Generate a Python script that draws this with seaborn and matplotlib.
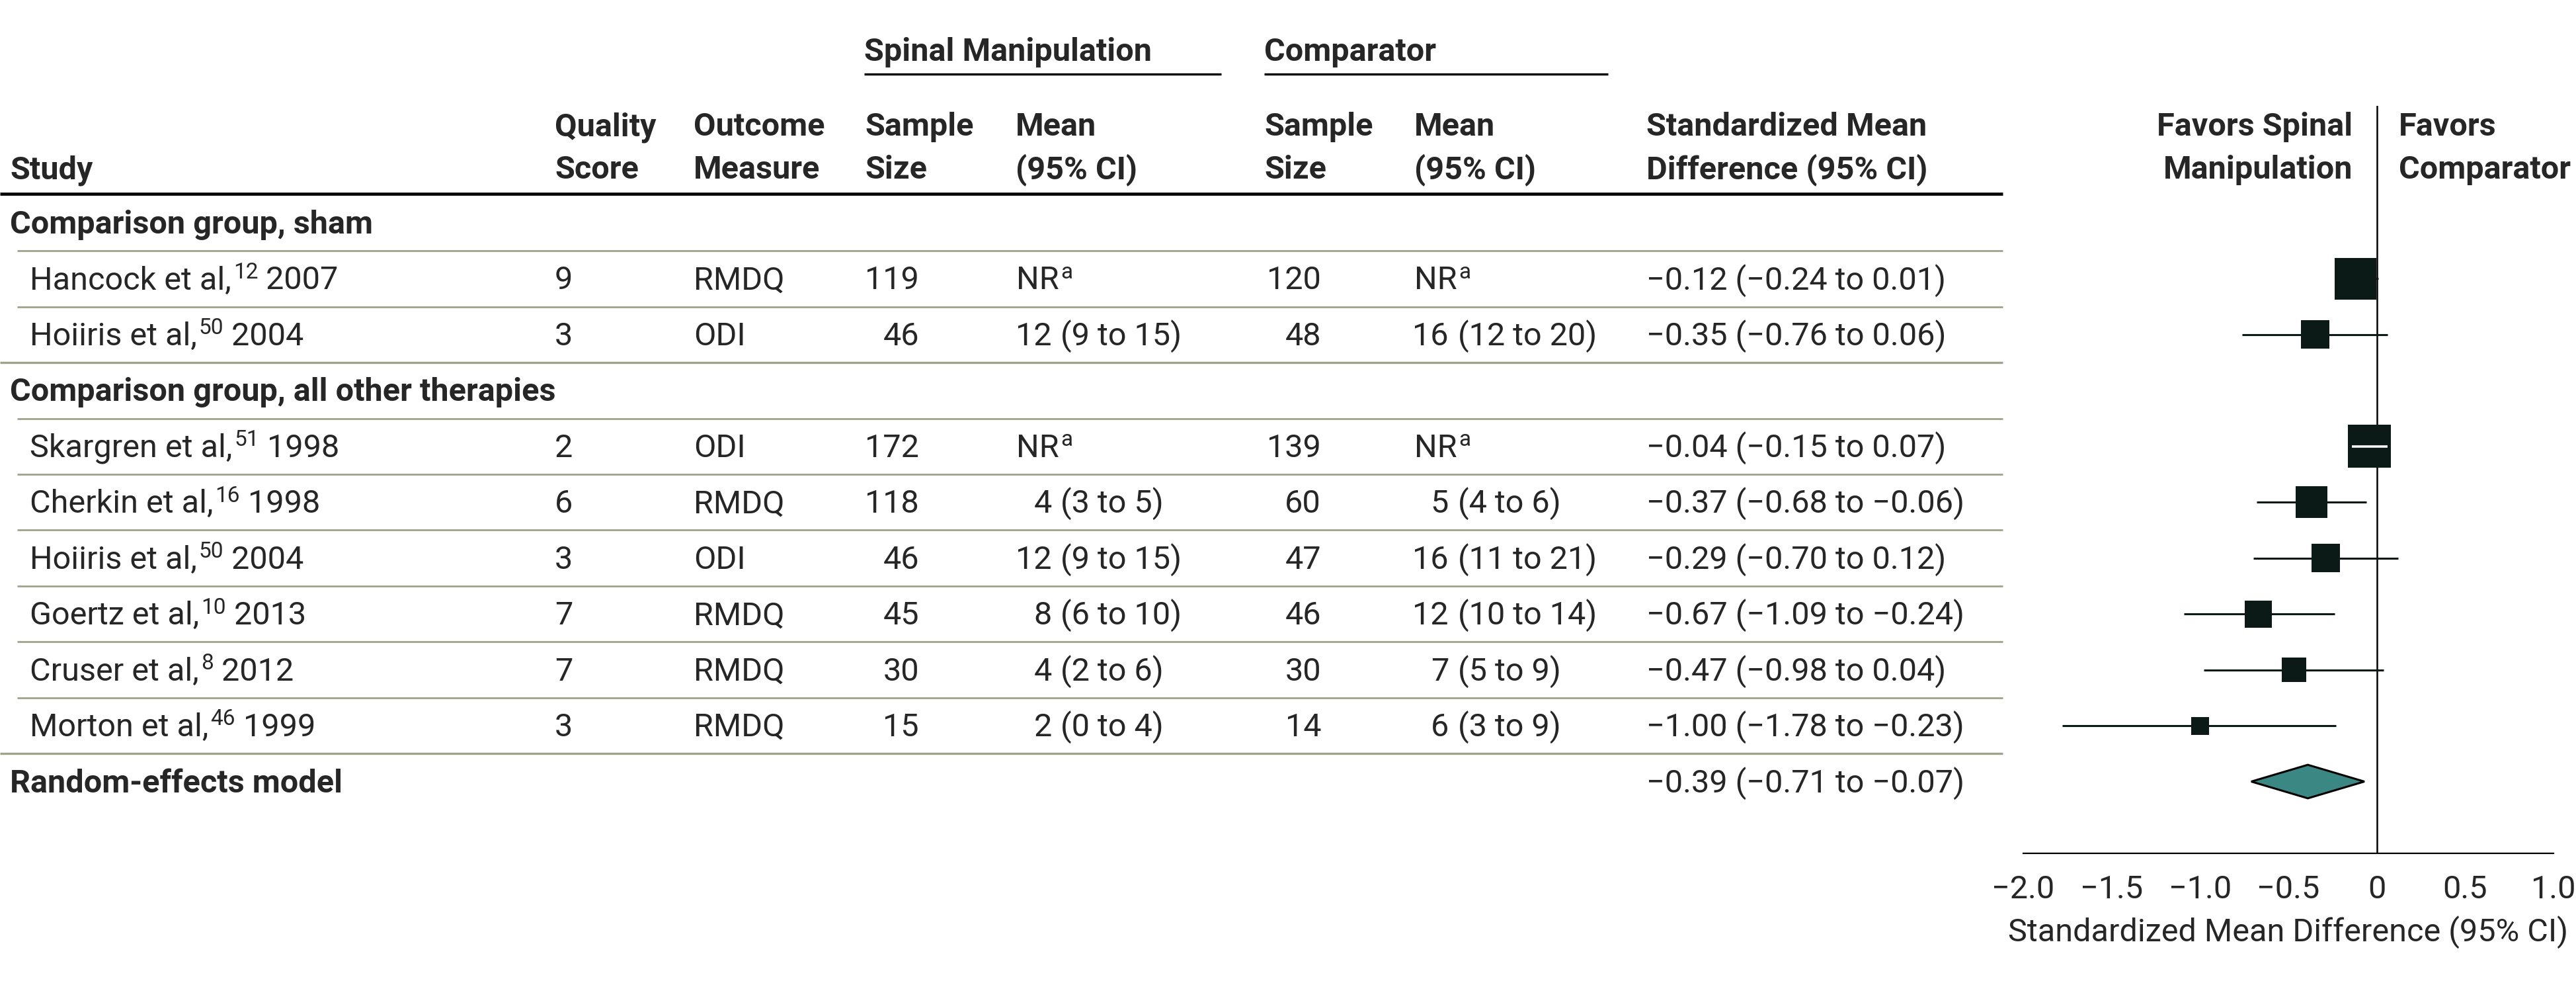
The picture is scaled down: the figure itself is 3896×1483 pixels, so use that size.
import numpy as np
import pandas as pd
import seaborn as sns
import matplotlib.pyplot as plt
import matplotlib.transforms as mtransforms

# study table data
groups = ["Comparison group, sham", "Comparison group, all other therapies"]
study_group = [0, 0, 1, 1, 1, 1, 1, 1]
study_names = ["Hancock et al,", "Hoiiris et al,", "Skargren et al,", "Cherkin et al,",
               "Hoiiris et al,", "Goertz et al,", "Cruser et al,", "Morton et al,"]
refs = ["12", "50", "51", "16", "50", "10", "8", "46"]
years = ["2007", "2004", "1998", "1998", "2004", "2013", "2012", "1999"]
quality = [9, 3, 2, 6, 3, 7, 7, 3]
outcome = ["RMDQ", "ODI", "ODI", "RMDQ", "ODI", "RMDQ", "RMDQ", "RMDQ"]
sm_n = [119, 46, 172, 118, 46, 45, 30, 15]
sm_mean = [None, 12, None, 4, 12, 8, 4, 2]
sm_lo = [None, 9, None, 3, 9, 6, 2, 0]
sm_hi = [None, 15, None, 5, 15, 10, 6, 4]
cmp_n = [120, 48, 139, 60, 47, 46, 30, 14]
cmp_mean = [None, 16, None, 5, 16, 12, 7, 6]
cmp_lo = [None, 12, None, 4, 11, 10, 5, 3]
cmp_hi = [None, 20, None, 6, 21, 14, 9, 9]
smd = [-0.12, -0.35, -0.04, -0.37, -0.29, -0.67, -0.47, -1.00]
smd_lo = [-0.24, -0.76, -0.15, -0.68, -0.70, -1.09, -0.98, -1.78]
smd_hi = [0.01, 0.06, 0.07, -0.06, 0.12, -0.24, 0.04, -0.23]
pooled_label = "Random-effects model"
pooled = [-0.39, -0.71, -0.07]
xticks = [-2.0, -1.5, -1.0, -0.5, 0, 0.5, 1.0]
xtick_labels = ["\u22122.0", "\u22121.5", "\u22121.0", "\u22120.5", "0", "0.5", "1.0"]

# box widths in pixels (study weight)
box_px = [63, 43, 65, 48, 43, 41, 37, 27]

sns.set_style("white")
plt.rcParams["font.family"] = ["Roboto", "DejaVu Sans"]

DARK = "#0b1a17"
TEAL = "#3b8784"
RULE = "#9ea389"
FS = 35
FS_SUP = 24

W, H = 3896, 1483
fig = plt.figure(figsize=(W / 100, H / 100), dpi=100)
ROW0, PITCH = 337, 84.45


def yrow(px):
    return (px - ROW0) / PITCH


def X(px):
    return px / W


ax = fig.add_axes([X(3060), 1 - 1290 / H, X(3862 - 3060), (1290 - 160) / H])
ax.patch.set_alpha(0)
trans = mtransforms.blended_transform_factory(fig.transFigure, ax.transData)
sup_trans = mtransforms.offset_copy(trans, fig=fig, x=0, y=12, units="points")
renderer = fig.canvas.get_renderer()


def txt(x_px, y, s, bold=False, ha="left", size=FS):
    return ax.text(X(x_px), y, s, transform=trans, fontsize=size, ha=ha, va="baseline",
                   fontweight="bold" if bold else "normal", clip_on=False)


def rich(x_px, y, parts):
    x = X(x_px)
    for s, sup in parts:
        if sup:
            x += X(3)
        t = ax.text(x, y, s, transform=sup_trans if sup else trans,
                    fontsize=FS_SUP if sup else FS, va="baseline", clip_on=False)
        x = t.get_window_extent(renderer).x1 / fig.bbox.width


def hline(x0, x1, y, color=RULE, lw=2.2):
    ax.plot([X(x0), X(x1)], [y, y], transform=trans, color=color, lw=lw,
            clip_on=False, solid_capstyle="butt")


def fmt(v):
    return f"{v:.2f}".replace("-", "\u2212")


# header
txt(1307, yrow(92), "Spinal Manipulation", bold=True)
txt(1912, yrow(92), "Comparator", bold=True)
hline(1307, 1847, yrow(112), color="black", lw=2.4)
hline(1912, 2432, yrow(112), color="black", lw=2.4)
heads = [(15, "", "Study"), (839, "Quality", "Score"), (1049, "Outcome", "Measure"),
         (1308, "Sample", "Size"), (1536, "Mean", "(95% CI)"),
         (1912, "Sample", "Size"), (2139, "Mean", "(95% CI)"),
         (2490, "Standardized Mean", "Difference (95% CI)")]
for x, l1, l2 in heads:
    txt(x, yrow(205), l1, bold=True)
    txt(x, yrow(270), l2, bold=True)
txt(3558, yrow(205), "Favors Spinal", bold=True, ha="right")
txt(3558, yrow(270), "Manipulation", bold=True, ha="right")
txt(3628, yrow(205), "Favors", bold=True)
txt(3628, yrow(270), "Comparator", bold=True)
hline(0, 3029, yrow(293), color="black", lw=3.4)

# table rows
BASE = 0.19
rows = []
r = 0
for g, gname in enumerate(groups):
    txt(15, r + BASE, gname, bold=True)
    r += 1
    for i in [k for k, sg in enumerate(study_group) if sg == g]:
        rows.append(r)
        rich(45, r + BASE, [(study_names[i], False), (refs[i], True), (" " + years[i], False)])
        txt(839, r + BASE, str(quality[i]))
        txt(1049, r + BASE, outcome[i])
        txt(1390, r + BASE, str(sm_n[i]), ha="right")
        txt(1998, r + BASE, str(cmp_n[i]), ha="right")
        if sm_mean[i] is None:
            rich(1537, r + BASE, [("NR", False), ("a", True)])
        else:
            txt(1591, r + BASE, str(sm_mean[i]), ha="right")
            txt(1604, r + BASE, f"({sm_lo[i]} to {sm_hi[i]})")
        if cmp_mean[i] is None:
            rich(2139, r + BASE, [("NR", False), ("a", True)])
        else:
            txt(2191, r + BASE, str(cmp_mean[i]), ha="right")
            txt(2205, r + BASE, f"({cmp_lo[i]} to {cmp_hi[i]})")
        txt(2490, r + BASE, f"{fmt(smd[i])} ({fmt(smd_lo[i])} to {fmt(smd_hi[i])})")
        r += 1
pooled_row = r
txt(15, pooled_row + BASE, pooled_label, bold=True)
txt(2490, pooled_row + BASE, f"{fmt(pooled[0])} ({fmt(pooled[1])} to {fmt(pooled[2])})")

# separators
group_starts = [0, 3]
for k in range(pooled_row):
    full = (k + 1) in group_starts or (k + 1) == pooled_row
    hline(0 if full else 26, 3029, k + 0.5, lw=2.4 if full else 2.0)

# forest plot
unit_px = (3862 - 3060) / 3.0
df = pd.DataFrame({"smd": smd, "row": rows,
                   "box": [(p * 0.72) ** 2 for p in box_px]})
ax.hlines(df["row"], smd_lo, smd_hi, color=DARK, lw=2.2, zorder=2)
sns.scatterplot(data=df, x="smd", y="row", size="box",
                sizes=(df["box"].min(), df["box"].max()), marker="s",
                color=DARK, edgecolor="none", linewidth=0, legend=False,
                ax=ax, zorder=3)
for i, rr in enumerate(rows):
    half = box_px[i] / 2 / unit_px
    if smd_lo[i] > smd[i] - half and smd_hi[i] < smd[i] + half:
        ax.hlines(rr, smd_lo[i] + 0.01, smd_hi[i] - 0.01, color="white", lw=2.6, zorder=4)

est, lo, hi = pooled
ax.fill([lo, est, hi, est], [pooled_row, pooled_row - 0.3, pooled_row, pooled_row + 0.3],
        facecolor=TEAL, edgecolor="black", lw=2.2, zorder=3)
ax.axvline(0, color="black", lw=1.8, zorder=1)

ax.set_xlim(-2, 1)
ax.set_ylim(yrow(1290), yrow(160))
ax.set_yticks([])
ax.set_ylabel("")
ax.set_xticks(xticks)
ax.set_xticklabels(xtick_labels, fontsize=FS)
ax.tick_params(axis="x", direction="out", length=13, width=1.6, pad=10, color="black")
ax.set_xlabel("Standardized Mean Difference (95% CI)", fontsize=FS, labelpad=12)
for s in ["left", "top", "right"]:
    ax.spines[s].set_visible(False)
ax.spines["bottom"].set_linewidth(1.6)
ax.spines["bottom"].set_color("black")

fig.savefig("out.png", dpi=100, facecolor="white")
